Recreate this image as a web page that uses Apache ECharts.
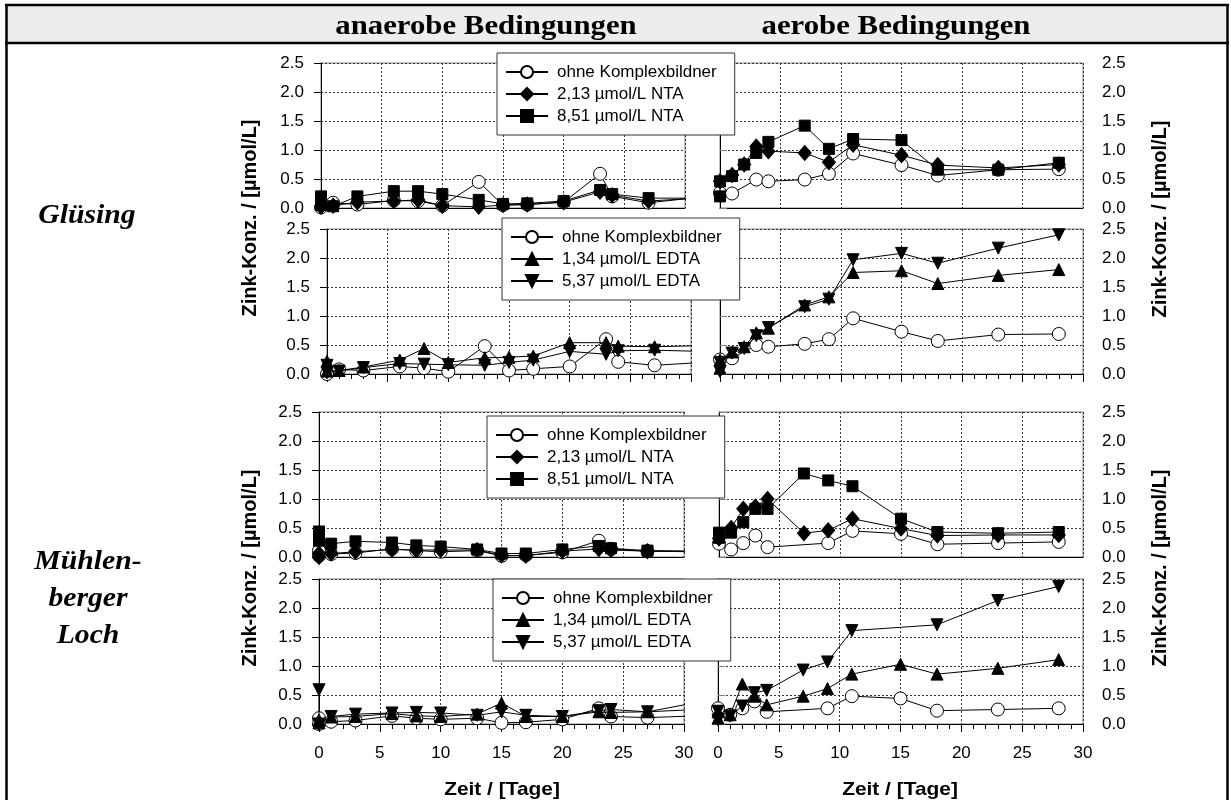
<!DOCTYPE html>
<html>
<head>
<meta charset="utf-8">
<script src="https://cdn.jsdelivr.net/npm/echarts@6/dist/echarts.min.js"></script>
<style>
  html, body { margin: 0; padding: 0; background: #fff; }
  #chart { width: 1231px; height: 800px; }
</style>
</head>
<body>
<div id="chart"></div>
<script>
// Zink-Konzentration [µmol/L] über der Zeit [Tage]; Paare aus [Tag, Wert].
// Anaerobe Ansätze laufen über Tag 30 hinaus (letzter Wert wird am Achsenende abgeschnitten).

// Glüsing, anaerob, NTA
const glAnNtaOhne = [[0,0.01],[1,0.09],[3,0.06],[6,0.13],[8,0.12],[10,0.04],[13,0.45],[15,0.05],[17,0.06],[20,0.10],[23,0.59],[24,0.20],[27,0.09],[31,0.18]];
const glAnNta213  = [[0,0.02],[1,0.04],[3,0.10],[6,0.12],[8,0.14],[10,0.04],[13,0.02],[15,0.05],[17,0.06],[20,0.10],[23,0.28],[24,0.22],[27,0.12],[31,0.17]];
const glAnNta851  = [[0,0.20],[0,0.05],[1,0.03],[3,0.20],[6,0.29],[8,0.29],[10,0.24],[13,0.14],[15,0.07],[17,0.08],[20,0.12],[23,0.31],[24,0.24],[27,0.17],[31,0.17]];
// Glüsing, aerob, NTA
const glAeNtaOhne = [[0,0.26],[1,0.25],[3,0.49],[4,0.46],[7,0.49],[9,0.59],[11,0.94],[15,0.74],[18,0.56],[23,0.66],[28,0.67]];
const glAeNta213  = [[0,0.46],[1,0.57],[2,0.75],[3,1.06],[4,0.98],[7,0.95],[9,0.79],[11,1.09],[15,0.91],[18,0.74],[23,0.69],[28,0.75]];
const glAeNta851  = [[0,0.20],[0,0.46],[1,0.55],[2,0.75],[3,0.95],[4,1.14],[7,1.42],[9,1.02],[11,1.19],[15,1.17],[18,0.66],[23,0.66],[28,0.78]];
// Glüsing, anaerob, EDTA
const glAnEdtaOhne = [[0,0.00],[1,0.08],[3,0.06],[6,0.13],[8,0.10],[10,0.04],[13,0.48],[15,0.06],[17,0.09],[20,0.13],[23,0.60],[24,0.21],[27,0.15],[31,0.20]];
const glAnEdta134  = [[0,0.22],[0,0.05],[1,0.06],[3,0.12],[6,0.24],[8,0.44],[10,0.20],[13,0.28],[15,0.29],[17,0.31],[20,0.54],[23,0.54],[24,0.48],[27,0.47],[31,0.49]];
const glAnEdta537  = [[0,0.15],[0,0.02],[1,0.05],[3,0.11],[6,0.18],[8,0.17],[10,0.16],[13,0.15],[15,0.20],[17,0.24],[20,0.39],[23,0.34],[24,0.40],[27,0.41],[31,0.39]];
// Glüsing, aerob, EDTA
const glAeEdtaOhne = [[0,0.25],[1,0.27],[3,0.50],[4,0.47],[7,0.52],[9,0.60],[11,0.96],[15,0.73],[18,0.57],[23,0.68],[28,0.69]];
const glAeEdta134  = [[0,0.24],[0,0.10],[1,0.38],[2,0.47],[3,0.71],[4,0.79],[7,1.19],[9,1.33],[11,1.75],[15,1.78],[18,1.56],[23,1.70],[28,1.80]];
const glAeEdta537  = [[0,0.04],[0,0.20],[1,0.36],[2,0.44],[3,0.66],[4,0.80],[7,1.16],[9,1.29],[11,1.97],[15,2.08],[18,1.91],[23,2.17],[28,2.40]];

// Mühlenberger Loch, anaerob, NTA
const mlAnNtaOhne = [[0,0.11],[0,0.02],[1,0.05],[3,0.07],[6,0.14],[8,0.11],[10,0.09],[13,0.11],[15,0.02],[17,0.03],[20,0.08],[23,0.28],[24,0.14],[27,0.10],[31,0.10]];
const mlAnNta213  = [[0,0.00],[0,0.06],[1,0.06],[3,0.09],[6,0.13],[8,0.12],[10,0.12],[13,0.12],[15,0.03],[17,0.02],[20,0.10],[23,0.14],[24,0.12],[27,0.10],[31,0.09]];
const mlAnNta851  = [[0,0.44],[0,0.28],[1,0.23],[3,0.27],[6,0.25],[8,0.20],[10,0.18],[13,0.13],[15,0.06],[17,0.06],[20,0.13],[23,0.19],[24,0.15],[27,0.11],[31,0.10]];
// Mühlenberger Loch, aerob, NTA
const mlAeNtaOhne = [[0,0.23],[1,0.13],[2,0.24],[3,0.37],[4,0.17],[9,0.24],[11,0.45],[15,0.40],[18,0.22],[23,0.24],[28,0.26]];
const mlAeNta213  = [[0,0.32],[1,0.50],[2,0.83],[3,0.87],[4,1.00],[7,0.41],[9,0.46],[11,0.66],[15,0.49],[18,0.37],[23,0.38],[28,0.38]];
const mlAeNta851  = [[0,0.33],[0,0.42],[1,0.42],[2,0.60],[3,0.83],[4,0.83],[7,1.44],[9,1.32],[11,1.22],[15,0.66],[18,0.43],[23,0.41],[28,0.43]];
// Mühlenberger Loch, anaerob, EDTA
const mlAnEdtaOhne = [[0,0.10],[0,0.00],[1,0.04],[3,0.06],[6,0.14],[8,0.10],[10,0.08],[13,0.10],[15,0.02],[17,0.03],[20,0.08],[23,0.27],[24,0.13],[27,0.11],[31,0.14]];
const mlAnEdta134  = [[0,0.07],[0,0.02],[1,0.12],[3,0.13],[6,0.18],[8,0.14],[10,0.13],[13,0.17],[15,0.36],[17,0.13],[20,0.13],[23,0.21],[24,0.20],[27,0.21],[31,0.25]];
const mlAnEdta537  = [[0,0.59],[0,0.00],[1,0.13],[3,0.17],[6,0.19],[8,0.20],[10,0.19],[13,0.15],[15,0.21],[17,0.15],[20,0.13],[23,0.23],[24,0.25],[27,0.21],[31,0.37]];
// Mühlenberger Loch, aerob, EDTA
const mlAeEdtaOhne = [[0,0.27],[1,0.16],[2,0.27],[3,0.39],[4,0.21],[9,0.27],[11,0.48],[15,0.44],[18,0.23],[23,0.25],[28,0.27]];
const mlAeEdta134  = [[0,0.21],[0,0.10],[1,0.16],[2,0.69],[3,0.48],[4,0.33],[7,0.48],[9,0.61],[11,0.86],[15,1.03],[18,0.86],[23,0.96],[28,1.11]];
const mlAeEdta537  = [[0,0.07],[0,0.22],[1,0.14],[2,0.31],[3,0.54],[4,0.58],[7,0.93],[9,1.07],[11,1.61],[18,1.71],[23,2.13],[28,2.37]];

// Legend names
const NAME_OHNE = 'ohne Komplexbildner';
const NAME_NTA1 = '2,13 µmol/L NTA';
const NAME_NTA2 = '8,51 µmol/L NTA';
const NAME_EDTA1 = '1,34 µmol/L EDTA';
const NAME_EDTA2 = '5,37 µmol/L EDTA';

// Axis ranges and ticks
const X_MIN = 0, X_MAX = 30, X_STEP = 5;
const Y_MIN = 0, Y_MAX = 2.5, Y_STEP = 0.5;

// Row / column titles
const HEADERS = ['anaerobe Bedingungen', 'aerobe Bedingungen'];
const SITE_1 = ['Glüsing'];
const SITE_2 = ['Mühlen-', 'berger', 'Loch'];
const Y_TITLE = 'Zink-Konz. / [µmol/L]';
const X_TITLE = 'Zeit / [Tage]';

// ---- styling ----
const SANS = '"Liberation Sans", Arial, sans-serif';
const SERIF = '"Liberation Serif", "Times New Roman", serif';
const markerStyles = {
  ohne:  { symbol: 'circle',   symbolSize: 13, symbolRotate: 0,   fill: '#fff' },
  nta1:  { symbol: 'diamond',  symbolSize: [13, 15], symbolRotate: 0, fill: '#000' },
  nta2:  { symbol: 'rect',     symbolSize: 11, symbolRotate: 0,   fill: '#000' },
  edta1: { symbol: 'triangle', symbolSize: 12, symbolRotate: 0,   fill: '#000' },
  edta2: { symbol: 'triangle', symbolSize: 12, symbolRotate: 180, fill: '#000' }
};

// panel layout: rows top->bottom, left = anaerob, right = aerob
const panels = [
  { rect: { left: 321, top: 63,  width: 364, height: 145 }, side: 'L', ticks: false, labels: false,
    lines: [[NAME_OHNE, glAnNtaOhne, 'ohne'], [NAME_NTA1, glAnNta213, 'nta1'], [NAME_NTA2, glAnNta851, 'nta2']] },
  { rect: { left: 720, top: 63,  width: 363, height: 145 }, side: 'R', ticks: false, labels: false,
    lines: [[NAME_OHNE, glAeNtaOhne, 'ohne'], [NAME_NTA1, glAeNta213, 'nta1'], [NAME_NTA2, glAeNta851, 'nta2']] },
  { rect: { left: 327, top: 229, width: 364, height: 145 }, side: 'L', ticks: true, labels: false,
    lines: [[NAME_OHNE, glAnEdtaOhne, 'ohne'], [NAME_EDTA1, glAnEdta134, 'edta1'], [NAME_EDTA2, glAnEdta537, 'edta2']] },
  { rect: { left: 720, top: 229, width: 363, height: 145 }, side: 'R', ticks: true, labels: false,
    lines: [[NAME_OHNE, glAeEdtaOhne, 'ohne'], [NAME_EDTA1, glAeEdta134, 'edta1'], [NAME_EDTA2, glAeEdta537, 'edta2']] },
  { rect: { left: 319, top: 412, width: 365, height: 145 }, side: 'L', ticks: false, labels: false,
    lines: [[NAME_OHNE, mlAnNtaOhne, 'ohne'], [NAME_NTA1, mlAnNta213, 'nta1'], [NAME_NTA2, mlAnNta851, 'nta2']] },
  { rect: { left: 719, top: 412, width: 364, height: 145 }, side: 'R', ticks: false, labels: false,
    lines: [[NAME_OHNE, mlAeNtaOhne, 'ohne'], [NAME_NTA1, mlAeNta213, 'nta1'], [NAME_NTA2, mlAeNta851, 'nta2']] },
  { rect: { left: 319, top: 579, width: 365, height: 145 }, side: 'L', ticks: true, labels: true,
    lines: [[NAME_OHNE, mlAnEdtaOhne, 'ohne'], [NAME_EDTA1, mlAnEdta134, 'edta1'], [NAME_EDTA2, mlAnEdta537, 'edta2']] },
  { rect: { left: 718, top: 579, width: 365, height: 145 }, side: 'R', ticks: true, labels: true,
    lines: [[NAME_OHNE, mlAeEdtaOhne, 'ohne'], [NAME_EDTA1, mlAeEdta134, 'edta1'], [NAME_EDTA2, mlAeEdta537, 'edta2']] }
];

const legendBoxes = [
  { left: 497, top: 53,  names: [NAME_OHNE, NAME_NTA1, NAME_NTA2] },
  { left: 502, top: 218, names: [NAME_OHNE, NAME_EDTA1, NAME_EDTA2] },
  { left: 487, top: 416, names: [NAME_OHNE, NAME_NTA1, NAME_NTA2] },
  { left: 493, top: 579, names: [NAME_OHNE, NAME_EDTA1, NAME_EDTA2] }
];

const grid = [], xAxis = [], yAxis = [], series = [];
const gridLineStyle = { color: '#333', width: 1, type: [2, 2] };

panels.forEach((p, i) => {
  grid.push(Object.assign({
    show: true, borderColor: '#808080', borderWidth: 1, backgroundColor: 'transparent',
    containLabel: false, outerBoundsMode: 'none'
  }, p.rect));

  xAxis.push({
    gridIndex: i, type: 'value', min: X_MIN, max: X_MAX, interval: X_STEP,
    axisLine: { show: true, onZero: false, lineStyle: { color: '#000', width: 1 } },
    axisTick: { show: p.ticks, length: 8, lineStyle: { color: '#000' } },
    minorTick: { show: p.ticks, splitNumber: 5, length: 5, lineStyle: { color: '#000' } },
    axisLabel: { show: p.labels, fontSize: 17, fontFamily: SANS, color: '#000', margin: 21 },
    splitLine: { show: true, lineStyle: gridLineStyle }
  });

  const isLeft = p.side === 'L';
  yAxis.push({
    gridIndex: i, type: 'value', min: Y_MIN, max: Y_MAX, interval: Y_STEP,
    position: isLeft ? 'left' : 'right',
    axisLine: { show: true, lineStyle: { color: isLeft ? '#000' : '#808080', width: 1 } },
    axisTick: { show: true, length: 7, lineStyle: { color: isLeft ? '#000' : '#808080' } },
    axisLabel: { show: true, fontSize: 17, fontFamily: SANS, color: '#000', margin: isLeft ? 17 : 19,
                 formatter: v => v.toFixed(1) },
    splitLine: { show: true, lineStyle: gridLineStyle }
  });

  p.lines.forEach(([name, data, key], k) => {
    const m = markerStyles[key];
    series.push({
      type: 'line', name, xAxisIndex: i, yAxisIndex: i, data,
      symbol: m.symbol, symbolSize: m.symbolSize, symbolRotate: m.symbolRotate,
      showSymbol: true, showAllSymbol: true, clip: true, z: 2 + k,
      lineStyle: { color: '#000', width: 1 },
      itemStyle: { color: m.fill, borderColor: '#000', borderWidth: 1 },
      emphasis: { disabled: true },
      animation: false
    });
  });
});

// black left edge for the aerob panels (day 0 line)
panels.forEach((p, i) => {
  if (p.side === 'R') {
    yAxis.push({
      gridIndex: i, type: 'value', min: Y_MIN, max: Y_MAX, position: 'left',
      axisLine: { show: true, lineStyle: { color: '#000', width: 1 } },
      axisTick: { show: false }, axisLabel: { show: false }, splitLine: { show: false }
    });
  }
});

const legend = legendBoxes.map(b => ({
  orient: 'vertical', left: b.left, top: b.top, data: b.names,
  selectedMode: false,
  backgroundColor: '#fff', borderColor: '#333', borderWidth: 1,
  padding: [9, 18, 9, 8],
  itemWidth: 42, itemHeight: 15, itemGap: 2,
  textStyle: { fontSize: 17, fontFamily: SANS, color: '#000', lineHeight: 20, padding: [0, 0, 0, 4] },
  z: 20
}));

// ---- frame, header band and titles ----
const graphic = [];
graphic.push({ type: 'rect', shape: { x: 6, y: 5, width: 1222, height: 38 }, style: { fill: '#ededed' }, z: 0 });
graphic.push({ type: 'line', shape: { x1: 5, y1: 5, x2: 1229, y2: 5 }, style: { stroke: '#000', lineWidth: 2.5 }, z: 1 });
graphic.push({ type: 'line', shape: { x1: 5, y1: 43, x2: 1229, y2: 43 }, style: { stroke: '#000', lineWidth: 2.5 }, z: 1 });
graphic.push({ type: 'line', shape: { x1: 6.5, y1: 5, x2: 6.5, y2: 800 }, style: { stroke: '#000', lineWidth: 2.5 }, z: 1 });
graphic.push({ type: 'line', shape: { x1: 1227.5, y1: 5, x2: 1227.5, y2: 800 }, style: { stroke: '#000', lineWidth: 2.5 }, z: 1 });

function txt(text, x, y, opts) {
  return Object.assign({
    type: 'text', x, y, z: 10,
    style: Object.assign({
      text, fill: '#000', align: 'center', verticalAlign: 'middle',
      textAlign: 'center', textVerticalAlign: 'middle'
    }, opts.style)
  }, opts.el || {});
}

const headerX = [486, 896];
HEADERS.forEach((h, i) => graphic.push(txt(h, headerX[i], 27, {
  style: { fontSize: 28, fontWeight: 'bold', fontFamily: SERIF }, el: { scaleX: 1.1 }
})));

SITE_1.forEach((s, i) => graphic.push(txt(s, 87, 216 + i * 37, {
  style: { fontSize: 27, fontWeight: 'bold', fontStyle: 'italic', fontFamily: SERIF }, el: { scaleX: 1.1 }
})));
SITE_2.forEach((s, i) => graphic.push(txt(s, 88, 562 + i * 37, {
  style: { fontSize: 27, fontWeight: 'bold', fontStyle: 'italic', fontFamily: SERIF }, el: { scaleX: 1.1 }
})));

[[250, 218], [250, 568], [1160, 219], [1160, 568]].forEach(([x, y]) => graphic.push(txt(Y_TITLE, x, y, {
  style: { fontSize: 20, fontWeight: 'bold', fontFamily: SANS }, el: { rotation: Math.PI / 2 }
})));

[502, 900].forEach(x => graphic.push(txt(X_TITLE, x, 790, {
  style: { fontSize: 19, fontWeight: 'bold', fontFamily: SANS }, el: { scaleX: 1.1 }
})));

const chart = echarts.init(document.getElementById('chart'), null, { renderer: 'canvas' });
chart.setOption({
  backgroundColor: '#fff',
  animation: false,
  grid, xAxis, yAxis, series, legend, graphic
});
</script>
</body>
</html>
